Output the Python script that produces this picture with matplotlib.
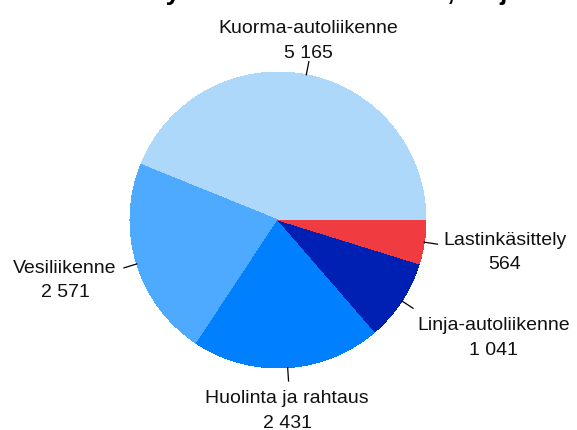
import numpy as np
import matplotlib
matplotlib.use('Agg')
from matplotlib import pyplot as plt

# data
labels = ['Kuorma-autoliikenne', 'Vesiliikenne', 'Huolinta ja rahtaus',
          'Linja-autoliikenne', 'Lastinkäsittely']
values = [5165, 2571, 2431, 1041, 564]
value_texts = ['5 165', '2 571', '2 431', '1 041', '564']
title = 'Liikenteen liikevaihto yhteensä vuonna 2008, milj. euroa'

colors = ['#ADD8FA', '#4DAAFF', '#0080FF', '#0020B4', '#F03C41']
# label anchor (x, baseline of name, baseline of value) in data units
label_pos = [(0.203, 1.264, 1.095),
             (-1.439, -0.358, -0.520),
             (0.061, -1.236, -1.405),
             (1.459, -0.743, -0.912),
             (1.534, -0.169, -0.331)]

plt.rcParams['font.family'] = ['Liberation Sans', 'DejaVu Sans']

fig = plt.figure(figsize=(5.77, 4.30), dpi=100)
fig.text(0.42, 1.0, title, ha='center', va='baseline', fontsize=19,
         fontweight='bold', color='black')

cx, cy, r = 278, 220, 148
ax = fig.add_axes([(cx - r) / 577, (430 - cy - r) / 430, 2 * r / 577, 2 * r / 430])
wedges, _ = ax.pie(values, colors=colors, startangle=0, counterclock=True,
                   radius=1, wedgeprops=dict(linewidth=0, antialiased=False))
ax.set_xlim(-1, 1)
ax.set_ylim(-1, 1)
ax.axis('off')

for w, name, vt, (lx, ly1, ly2) in zip(wedges, labels, value_texts, label_pos):
    mid = np.deg2rad((w.theta1 + w.theta2) / 2)
    ax.plot([np.cos(mid), 1.09 * np.cos(mid)], [np.sin(mid), 1.09 * np.sin(mid)],
            color='black', lw=0.9, clip_on=False)
    ax.text(lx, ly1, name, ha='center', va='baseline', fontsize=14, color='#111111')
    ax.text(lx, ly2, vt, ha='center', va='baseline', fontsize=14, color='#111111')

fig.savefig('out.png', dpi=100)
